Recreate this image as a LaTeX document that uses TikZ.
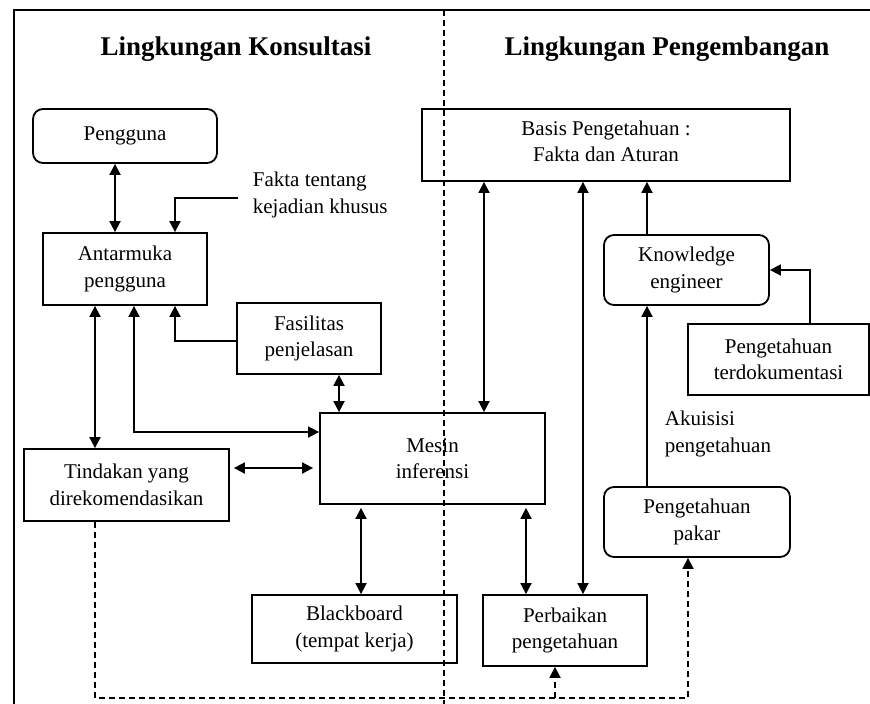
\documentclass[tikz,border=0pt]{standalone}
\usepackage{fontspec}
\setmainfont{Liberation Serif}
\usetikzlibrary{arrows.meta,calc}
\begin{document}
\begin{tikzpicture}[x=1pt,y=-1pt,
  line width=1.8pt,
  >={Triangle[length=11pt,width=11pt]},
  box/.style={draw, rectangle, inner sep=0pt, align=center,
    font=\fontsize{21}{26.5}\selectfont},
  rbox/.style={box, rounded corners=10pt},
  lbl/.style={inner sep=0pt, align=left, font=\fontsize{21}{26.5}\selectfont},
  ttl/.style={inner sep=0pt, font=\fontsize{27}{30}\selectfont\bfseries},
  dsh/.style={dash pattern=on 6pt off 4pt},
]
\useasboundingbox (0,0) rectangle (870,704);
% frame
\draw (14,706) -- (14,10) -- (872,10);
% divider
\draw[line width=1.4pt, dash pattern=on 6pt off 4pt] (444,10) -- (444,706);

% titles
\node[ttl] (tk) at (236,49) {Lingkungan Konsultasi};
\node[ttl] (tp) at (667,49) {Lingkungan Pengembangan};

% nodes
\node[rbox, minimum width=184pt, minimum height=54pt] (pengguna) at (125,136) {Pengguna};
\node[box, minimum width=164pt, minimum height=72pt] (ant) at (125,269) {Antarmuka\\pengguna};
\node[box, minimum width=144pt, minimum height=71pt] (fas) at (309,338.5) {Fasilitas\\penjelasan};
\node[box, minimum width=225pt, minimum height=91pt] (mesin) at (432.5,458.5) {Mesin\\inferensi};
\node[box, minimum width=205pt, minimum height=72pt] (tind) at (126.5,485) {Tindakan yang\\direkomendasikan};
\node[box, minimum width=205pt, minimum height=68pt] (black) at (354.5,629) {Blackboard\\(tempat kerja)};
\node[box, minimum width=368pt, minimum height=72pt, text depth=8pt] (basis) at (606,145) {Basis Pengetahuan :\\Fakta dan Aturan};
\node[rbox, minimum width=165pt, minimum height=70pt] (ke) at (686.5,270) {Knowledge\\engineer};
\node[box, minimum width=181pt, minimum height=71pt] (terdok) at (778.5,359.5) {Pengetahuan\\terdokumentasi};
\node[rbox, minimum width=186pt, minimum height=70pt] (pakar) at (697,522) {Pengetahuan\\pakar};
\node[box, minimum width=164pt, minimum height=71pt] (perb) at (565,630.5) {Perbaikan\\pengetahuan};

\node[lbl, anchor=west] (fakta) at (252,195) {Fakta tentang\\kejadian khusus};
\node[lbl, anchor=west] (akui) at (664,434) {Akuisisi\\pengetahuan};

\coordinate (fk) at (238,198);
\coordinate (bot) at (0,698);

% connectors
\draw[<->] ([xshift=-10pt]pengguna.south) -- ([xshift=-10pt]ant.north);
\draw[->] (fk) -| ([xshift=50pt]ant.north);
\draw[->] ([yshift=-2.5pt]fas.west) -| ([xshift=50pt]ant.south);
\draw[<->] ([xshift=9pt]ant.south) |- ([yshift=26.5pt]mesin.west);
\draw[<->] ([xshift=-30pt]ant.south) -- ([xshift=-30pt]ant.south |- tind.north);
\draw[<->, shorten <=4pt, shorten >=6pt] ([yshift=17pt]tind.east) -- ([yshift=17pt]tind.east -| mesin.west);
\draw[<->] ([xshift=30pt]fas.south) -- ([xshift=30pt]fas.south |- mesin.north);
\draw[<->, shorten <=3pt] ([xshift=6.5pt]black.north |- mesin.south) -- ([xshift=6.5pt]black.north);
\draw[<->] ([xshift=51.5pt]mesin.north) -- ([xshift=51.5pt]mesin.north |- basis.south);
\draw[<->, shorten <=3pt] ([xshift=-39pt]perb.north |- mesin.south) -- ([xshift=-39pt]perb.north);
\draw[<->] ([xshift=18pt]perb.north) -- ([xshift=18pt]perb.north |- basis.south);
\draw[->] ([xshift=-39.5pt]ke.north) -- ([xshift=-39.5pt]ke.north |- basis.south);
\draw[->] ([xshift=-50pt]pakar.north) -- ([xshift=-50pt]pakar.north |- ke.south);
\draw[->] ([xshift=31.5pt]terdok.north) |- (ke.east);
\draw[dsh, ->] ([xshift=-31.5pt]tind.south) -- ([xshift=-31.5pt]tind.south |- bot) -| ([xshift=-9pt]pakar.south);
\draw[dsh, ->] ([xshift=-10pt]perb.south |- bot) -- ([xshift=-10pt]perb.south);
\end{tikzpicture}
\end{document}
